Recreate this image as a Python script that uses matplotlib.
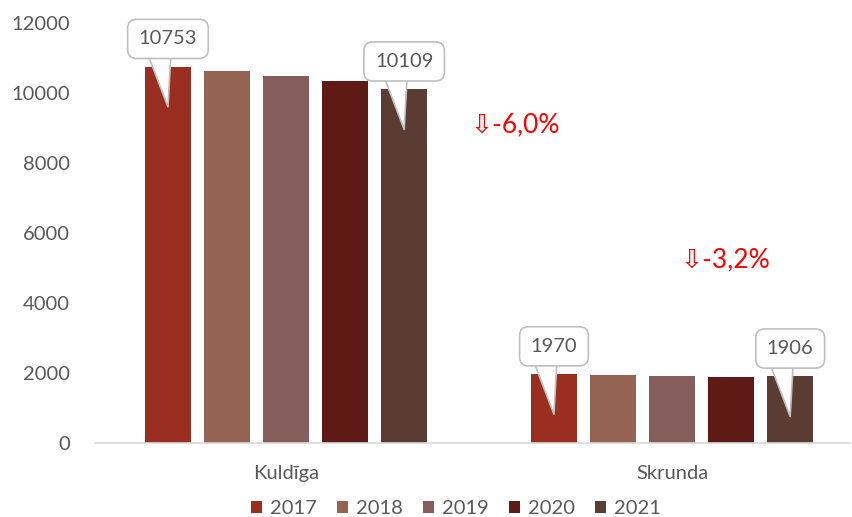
import matplotlib
matplotlib.use('Agg')
import numpy as np
import matplotlib.pyplot as plt

plt.rcParams['font.family'] = ['Lato', 'DejaVu Sans']

regions = ['Kuldīga', 'Skrunda']
years = ['2017', '2018', '2019', '2020', '2021']
values = {
    '2017': [10753, 1970],
    '2018': [10625, 1950],
    '2019': [10490, 1915],
    '2020': [10340, 1900],
    '2021': [10109, 1906],
}
colors = ['#9A2E20', '#956352', '#855E5C', '#5E1B15', '#5A3C33']
changes = ['-6,0%', '-3,2%']

fig = plt.figure(figsize=(8.52, 5.17), dpi=100)
ax = fig.add_axes([95 / 852, 1 - 443 / 517, 755 / 852, 420 / 517])

x = np.arange(len(regions))
width = 0.119
step = 0.153
bars = []
for i, yr in enumerate(years):
    b = ax.bar(x + (i - 2) * step, values[yr], width, color=colors[i], label=yr, zorder=2)
    bars.append(b)

ax.set_xlim(-0.495, 1.461)
ax.set_ylim(0, 12000)
ax.set_yticks(range(0, 12001, 2000))
ax.set_xticks(x)
ax.set_xticklabels(regions)
ax.tick_params(axis='both', length=0, labelsize=14.5, colors='#595959')
ax.tick_params(axis='y', pad=18)
ax.tick_params(axis='x', pad=16)
for s in ['top', 'right', 'left']:
    ax.spines[s].set_visible(False)
ax.spines['bottom'].set_color('#D9D9D9')
ax.spines['bottom'].set_linewidth(1.2)

# callouts for first and last year
for j in range(len(regions)):
    for i in (0, len(years) - 1):
        v = values[years[i]][j]
        bx = x[j] + (i - 2) * step
        tip = v - 1150
        ax.annotate('', xy=(bx, tip), xytext=(-10, 64), textcoords='offset pixels',
                    arrowprops=dict(arrowstyle='wedge,tail_width=2.0', fc='white',
                                    ec='#BFBFBF', lw=1.2, shrinkA=0, shrinkB=0),
                    zorder=4)
        ax.annotate(str(v), xy=(bx, tip), xytext=(0, 68), textcoords='offset pixels',
                    ha='center', va='center', fontsize=14.5, color='#595959',
                    bbox=dict(boxstyle='round,pad=0.55,rounding_size=0.45', fc='white',
                              ec='#BFBFBF', lw=1.2),
                    zorder=5)

ax.text(0.593, 9086, '⇩' + changes[0], color='#FF0000', fontsize=19,
        ha='center', va='center')
ax.text(1.137, 5229, '⇩' + changes[1], color='#FF0000', fontsize=19,
        ha='center', va='center')

fig.legend(handles=bars, labels=years, loc='center', bbox_to_anchor=(0.535, 0.017),
           ncol=5, frameon=False, fontsize=14.5, labelcolor='#595959',
           handlelength=0.55, handleheight=0.55, handletextpad=0.4, columnspacing=1.0)

plt.savefig('out.png', dpi=100)
plt.close()
